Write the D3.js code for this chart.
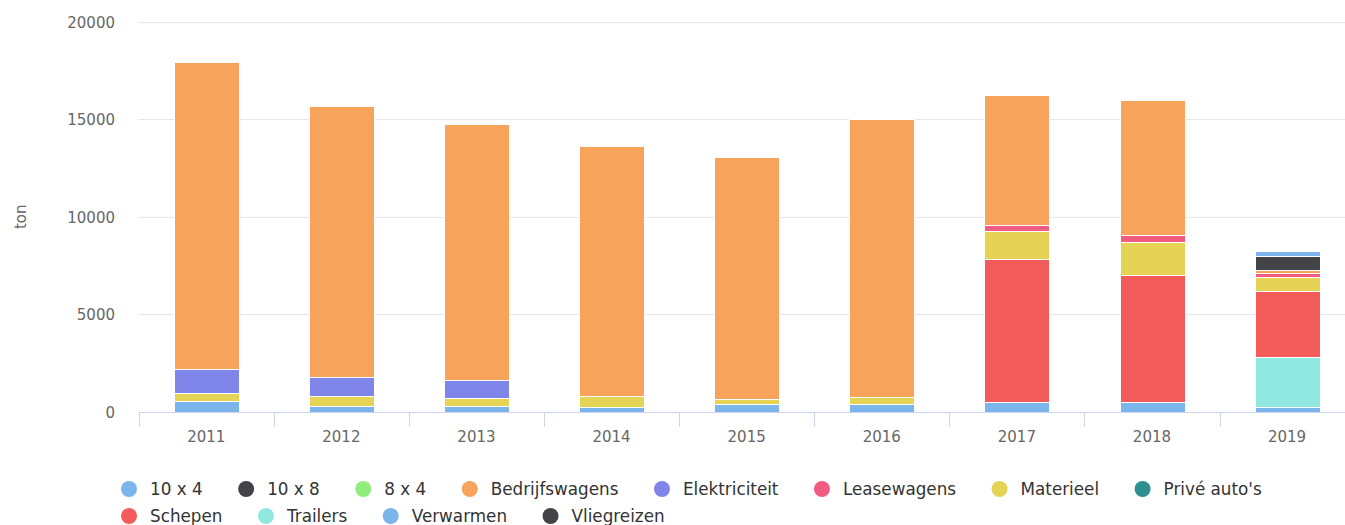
<!DOCTYPE html>
<html>
<head>
<meta charset="utf-8">
<script src="https://cdn.jsdelivr.net/npm/d3@7"></script>
<style>
  html, body { margin: 0; padding: 0; background: #fff; overflow: hidden; }
  svg { display: block; font-family: "DejaVu Sans", Verdana, sans-serif; }
</style>
</head>
<body>
<svg id="chart" width="1345" height="525"></svg>
<script>
// ---- Data ----
const years = ["2011", "2012", "2013", "2014", "2015", "2016", "2017", "2018", "2019"];
const seriesNames = ["10 x 4", "10 x 8", "8 x 4", "Bedrijfswagens", "Elektriciteit", "Leasewagens", "Materieel", "Privé auto's", "Schepen", "Trailers", "Verwarmen", "Vliegreizen"];
const seriesColors = ["#7cb5ec", "#434348", "#90ed7d", "#f7a35c", "#8085e9", "#f15c80", "#e4d354", "#2b908f", "#f45b5b", "#91e8e1", "#7cb5ec", "#434348"];
const v10x4          = [0, 0, 0, 0, 0, 0, 0, 0, 300];
const v10x8          = [0, 0, 0, 0, 0, 0, 0, 0, 690];
const v8x4           = [0, 0, 0, 0, 0, 0, 0, 0, 0];
const vBedrijfswagens= [15780, 13890, 13140, 12840, 12420, 14300, 6660, 6920, 180];
const vElektriciteit = [1240, 990, 930, 0, 0, 0, 0, 0, 0];
const vLeasewagens   = [0, 0, 0, 0, 0, 0, 330, 390, 175];
const vMaterieel     = [420, 520, 420, 570, 260, 330, 1400, 1660, 750];
const vPriveAutos    = [0, 0, 0, 0, 0, 0, 0, 0, 0];
const vSchepen       = [0, 0, 0, 0, 0, 0, 7380, 6540, 3385];
const vTrailers      = [0, 0, 0, 0, 0, 0, 0, 0, 2570];
const vVerwarmen     = [530, 270, 270, 210, 400, 390, 470, 490, 210];
const vVliegreizen   = [0, 0, 0, 0, 0, 0, 0, 0, 0];
const yTicks = [0, 5000, 10000, 15000, 20000];
const yTitle = "ton";

const seriesValues = [v10x4, v10x8, v8x4, vBedrijfswagens, vElektriciteit, vLeasewagens, vMaterieel, vPriveAutos, vSchepen, vTrailers, vVerwarmen, vVliegreizen];

const svg = d3.select("#chart");
const plotLeft = 138.7, plotRight = 1354.6, plotTop = 22, plotBottom = 411.5;

const x = d3.scaleBand().domain(years).range([plotLeft, plotRight]).paddingInner(0).paddingOuter(0);
const y = d3.scaleLinear().domain([0, 20000]).range([plotBottom, plotTop]);

// gridlines
svg.append("g").selectAll("line").data(yTicks.filter(d => d !== 0)).join("line")
  .attr("x1", plotLeft).attr("x2", 1345)
  .attr("y1", d => Math.round(y(d)) + 0.5).attr("y2", d => Math.round(y(d)) + 0.5)
  .attr("stroke", "#e6e6e6").attr("stroke-width", 1);

// y axis labels
svg.append("g").selectAll("text").data(yTicks).join("text")
  .attr("x", 115).attr("y", d => y(d) + 6)
  .attr("text-anchor", "end").attr("fill", "#666666").attr("font-size", "15px")
  .text(d => d);

// y title
svg.append("text")
  .attr("transform", `translate(26, ${(plotTop + plotBottom) / 2}) rotate(-90)`)
  .attr("text-anchor", "middle").attr("fill", "#666666").attr("font-size", "15px")
  .text(yTitle);

// stacked data (first series on top)
const rows = years.map((yr, i) => {
  const o = { year: yr };
  seriesNames.forEach((n, j) => { o[n] = seriesValues[j][i]; });
  return o;
});
const stackKeys = seriesNames.slice().reverse();
const stacked = d3.stack().keys(stackKeys)(rows);

const bw = x.bandwidth() * 0.48;
const gBars = svg.append("g");
stacked.forEach(layer => {
  const idx = seriesNames.indexOf(layer.key);
  gBars.append("g").attr("fill", seriesColors[idx])
    .selectAll("rect").data(layer.filter(d => d[1] - d[0] > 0)).join("rect")
    .attr("x", d => Math.round(x(d.data.year) + x.bandwidth() / 2 - bw / 2) + 0.5)
    .attr("width", Math.round(bw))
    .attr("y", d => Math.round(y(d[1])) + 0.5)
    .attr("height", d => Math.max(0, Math.round(y(d[0])) - Math.round(y(d[1]))))
    .attr("stroke", "#ffffff").attr("stroke-width", 1);
});

// x axis
const xAxisY = Math.round(plotBottom) + 0.5;
svg.append("line").attr("x1", plotLeft).attr("x2", 1345)
  .attr("y1", xAxisY).attr("y2", xAxisY).attr("stroke", "#ccd6eb").attr("stroke-width", 1);
const tickPos = years.map(d => x(d));
svg.append("g").selectAll("line").data(tickPos).join("line")
  .attr("x1", d => Math.round(d) + 0.5).attr("x2", d => Math.round(d) + 0.5)
  .attr("y1", xAxisY).attr("y2", xAxisY + 14)
  .attr("stroke", "#ccd6eb").attr("stroke-width", 1);
svg.append("g").selectAll("text").data(years).join("text")
  .attr("x", d => x(d) + x.bandwidth() / 2).attr("y", 441.5)
  .attr("text-anchor", "middle").attr("fill", "#666666").attr("font-size", "15px")
  .text(d => d);

// legend (flow layout)
const legend = svg.append("g");
const rowStartText = 150, itemGap = 64.5, maxRight = 1345, rowH = 27;
let tx = rowStartText, rowY = 489;
seriesNames.forEach((n, j) => {
  const g = legend.append("g");
  const t = g.append("text").attr("fill", "#333333").attr("font-size", "16.8px").text(n);
  const tw = t.node().getComputedTextLength();
  if (tx + tw > maxRight && tx > rowStartText) { tx = rowStartText; rowY += rowH; }
  t.attr("x", tx).attr("y", rowY + 6);
  g.append("circle").attr("cx", tx - 21).attr("cy", rowY).attr("r", 8).attr("fill", seriesColors[j]);
  tx += tw + itemGap;
});
</script>
</body>
</html>
